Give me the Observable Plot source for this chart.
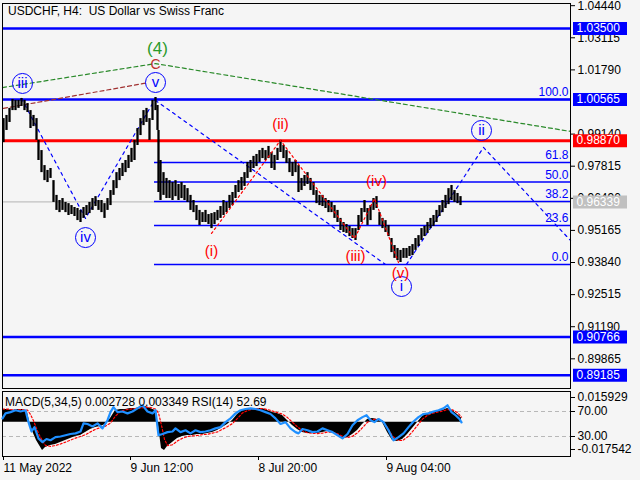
<!DOCTYPE html>
<html><head><meta charset="utf-8">
<script src="https://cdn.jsdelivr.net/npm/d3@7"></script>
<script src="https://cdn.jsdelivr.net/npm/@observablehq/plot@0.6"></script>
<style>
body{margin:0;background:#f5f5f5;}
#wrap{position:relative;width:640px;height:480px;overflow:hidden;font-family:"Liberation Sans",Arial,sans-serif;background:#f5f5f5;}
.layer{position:absolute;left:0;}
#title{position:absolute;left:8px;top:4px;font-size:12px;color:#000;white-space:pre;}
#ind{position:absolute;left:5px;top:395px;font-size:12px;color:#000;white-space:pre;}
</style></head><body>
<div id="wrap"></div>
<script>
// ---------- data ----------
const titleText = "USDCHF, H4:  US Dollar vs Swiss Franc";
const indicatorText = "MACD(5,34,5) 0.002728 0.003349 RSI(14) 52.69";

const priceTicks = [1.04440,1.03115,1.01790,0.99140,0.97815,0.96490,0.95165,0.93840,0.92515,0.91190,0.89865];
const timeTickBars = [3,130,258,386];
const timeTickLabels = ["11 May 2022","9 Jun 12:00","8 Jul 20:00","9 Aug 04:00"];

const priceBar = [3,6,9,12,15,18,21,24,27,30,33,36,38,41,44,47,50,53,56,59,62,65,68,71,74,77,80,83,86,89,92,95,98,101,104,107,110,113,116,119,122,125,128,131,134,137,140,143,146,149,152,155,157,158,160,163,166,169,172,175,178,181,184,187,190,193,196,199,202,205,208,211,214,217,220,223,226,229,232,235,238,241,244,247,250,253,256,259,262,265,268,271,274,277,280,283,286,289,292,295,298,301,304,307,310,313,316,319,322,325,328,331,334,337,340,343,346,349,352,355,358,361,364,367,370,373,376,379,382,385,388,391,394,397,400,403,406,409,412,415,418,421,424,427,430,433,436,439,442,445,448,451,454,457,460];
const priceHigh = [0.9978,0.9991,1.0020,1.0057,1.0053,1.0053,1.0061,1.0053,1.0040,1.0011,0.9991,0.9978,0.9888,0.9846,0.9784,0.9764,0.9772,0.9722,0.9661,0.9640,0.9648,0.9632,0.9627,0.9619,0.9611,0.9607,0.9599,0.9611,0.9619,0.9632,0.9648,0.9656,0.9640,0.9640,0.9627,0.9648,0.9681,0.9722,0.9755,0.9772,0.9793,0.9805,0.9826,0.9855,0.9888,0.9937,0.9978,1.0011,1.0020,0.9978,1.0053,1.0065,1.0032,0.9929,0.9805,0.9755,0.9731,0.9722,0.9714,0.9722,0.9706,0.9714,0.9702,0.9689,0.9661,0.9640,0.9619,0.9599,0.9590,0.9599,0.9582,0.9586,0.9590,0.9599,0.9615,0.9640,0.9632,0.9661,0.9673,0.9702,0.9722,0.9735,0.9755,0.9797,0.9805,0.9822,0.9830,0.9846,0.9855,0.9846,0.9863,0.9838,0.9826,0.9855,0.9888,0.9867,0.9846,0.9813,0.9797,0.9805,0.9784,0.9731,0.9743,0.9755,0.9731,0.9714,0.9681,0.9661,0.9661,0.9648,0.9640,0.9632,0.9619,0.9599,0.9566,0.9549,0.9541,0.9533,0.9524,0.9524,0.9578,0.9607,0.9640,0.9607,0.9619,0.9648,0.9656,0.9590,0.9566,0.9557,0.9537,0.9483,0.9454,0.9442,0.9434,0.9442,0.9442,0.9450,0.9458,0.9483,0.9495,0.9524,0.9533,0.9549,0.9566,0.9578,0.9599,0.9619,0.9640,0.9661,0.9689,0.9702,0.9681,0.9669,0.9656];
const priceLow = [0.9879,0.9929,0.9962,1.0011,1.0011,1.0020,1.0028,1.0011,1.0003,0.9937,0.9945,0.9888,0.9805,0.9755,0.9722,0.9714,0.9731,0.9632,0.9599,0.9590,0.9599,0.9590,0.9578,0.9582,0.9574,0.9557,0.9549,0.9566,0.9578,0.9586,0.9599,0.9615,0.9599,0.9590,0.9566,0.9599,0.9619,0.9661,0.9689,0.9722,0.9739,0.9755,0.9772,0.9797,0.9805,0.9867,0.9908,0.9949,0.9962,0.9888,0.9970,1.0011,0.9929,0.9673,0.9640,0.9661,0.9648,0.9648,0.9640,0.9656,0.9640,0.9648,0.9640,0.9632,0.9599,0.9590,0.9557,0.9537,0.9549,0.9549,0.9541,0.9524,0.9541,0.9557,0.9566,0.9578,0.9590,0.9607,0.9619,0.9648,0.9673,0.9681,0.9698,0.9731,0.9755,0.9772,0.9780,0.9797,0.9813,0.9805,0.9813,0.9772,0.9764,0.9805,0.9838,0.9813,0.9793,0.9755,0.9739,0.9755,0.9673,0.9681,0.9698,0.9706,0.9681,0.9661,0.9627,0.9619,0.9615,0.9607,0.9590,0.9590,0.9566,0.9549,0.9516,0.9508,0.9504,0.9491,0.9483,0.9475,0.9516,0.9549,0.9590,0.9537,0.9557,0.9599,0.9607,0.9537,0.9524,0.9508,0.9491,0.9425,0.9401,0.9392,0.9384,0.9401,0.9401,0.9409,0.9413,0.9434,0.9450,0.9475,0.9491,0.9504,0.9524,0.9533,0.9549,0.9574,0.9590,0.9607,0.9623,0.9640,0.9632,0.9627,0.9619];

const blueLevels = [1.03500, 1.00565, 0.90766, 0.89185];
const redLevel = [0.98870];
const currentPrice = [0.96339];

const fibLabels = ["0.0","23.6","38.2","50.0","61.8","100.0"];
const fibRatios = [0, 0.236, 0.382, 0.5, 0.618, 1];
const fibLow = 0.93757, fibHigh = 1.00565, fibStartBar = 154, fibEndBar = 570;

const greenLineBar = [2,155,570],  greenLinePrice = [1.0106,1.0205,0.9925];
const brownLineBar = [3,146],      brownLinePrice = [1.0020,1.0125];
const blueWaveBar = [21,85,155],   blueWavePrice = [1.0061,0.9566,1.0061];
const blueDropBar = [155,385],     blueDropPrice = [1.0053,0.9376];
const blueProjBar = [406,483,570], blueProjPrice = [0.9376,0.9859,0.9475];
const redWaveBar = [211,280,354,374,398], redWavePrice = [0.9504,0.9888,0.9483,0.9648,0.9384];

const circleNames = ["iii","v","iv","i","ii"];
const circleBar = [22,155,85,401,481];
const circlePrice = [1.0123,1.0127,0.9487,0.9285,0.9929];
const redNames = ["(i)","(ii)","(iii)","(iv)","(v)"];
const redBar = [211,280,355,376,400];
const redPrice = [0.9429,0.9954,0.9409,0.9718,0.9339];

const boxPrices = [1.03500,1.00565,0.98870,0.96339,0.90766,0.89185];
const boxColors = ["#0000ff","#0000ff","#ff0000","#c0c0c0","#0000ff","#0000ff"];

// indicator panel
const macdBar = [2,7,12,17,22,27,30,33,36,39,42,45,50,55,60,65,70,75,80,85,90,95,100,105,110,115,120,125,130,135,140,145,150,155,158,161,164,167,172,177,182,187,192,197,202,207,212,217,222,227,232,237,242,247,252,257,262,267,272,277,282,287,292,297,302,307,312,317,322,327,332,337,342,347,352,357,362,367,372,377,382,387,392,397,402,407,412,417,422,427,432,437,442,447,452,457,461];
const macdHist = [0.0082,0.0082,0.0075,0.0082,0.0082,0.0062,-0.0021,-0.0073,-0.0118,-0.0150,-0.0182,-0.0163,-0.0150,-0.0144,-0.0131,-0.0118,-0.0105,-0.0092,-0.0086,-0.0066,-0.0047,-0.0034,-0.0028,-0.0015,0.0024,0.0075,0.0082,0.0082,0.0088,0.0088,0.0095,0.0101,0.0088,0.0075,-0.0021,-0.0169,-0.0182,-0.0156,-0.0131,-0.0105,-0.0092,-0.0086,-0.0086,-0.0079,-0.0079,-0.0073,-0.0066,-0.0053,-0.0034,-0.0015,0.0011,0.0050,0.0075,0.0082,0.0088,0.0088,0.0088,0.0075,0.0062,0.0056,0.0043,0.0011,-0.0021,-0.0047,-0.0066,-0.0073,-0.0073,-0.0073,-0.0066,-0.0060,-0.0066,-0.0086,-0.0099,-0.0099,-0.0079,-0.0053,-0.0015,0.0017,0.0024,0.0017,-0.0002,-0.0066,-0.0118,-0.0124,-0.0111,-0.0079,-0.0041,-0.0002,0.0037,0.0056,0.0062,0.0069,0.0075,0.0088,0.0075,0.0050,0.0027];
const macdSignal = [0.0085,0.0085,0.0080,0.0080,0.0082,0.0078,0.0050,0.0010,-0.0040,-0.0085,-0.0120,-0.0150,-0.0155,-0.0150,-0.0140,-0.0128,-0.0115,-0.0102,-0.0092,-0.0080,-0.0062,-0.0045,-0.0035,-0.0025,-0.0005,0.0040,0.0070,0.0080,0.0085,0.0088,0.0090,0.0097,0.0095,0.0085,0.0060,-0.0020,-0.0110,-0.0150,-0.0145,-0.0120,-0.0103,-0.0092,-0.0088,-0.0085,-0.0080,-0.0077,-0.0070,-0.0062,-0.0045,-0.0028,-0.0008,0.0025,0.0060,0.0075,0.0085,0.0088,0.0088,0.0082,0.0072,0.0062,0.0052,0.0030,0.0000,-0.0030,-0.0055,-0.0068,-0.0072,-0.0073,-0.0070,-0.0063,-0.0063,-0.0075,-0.0090,-0.0098,-0.0090,-0.0068,-0.0035,0.0000,0.0018,0.0020,0.0008,-0.0035,-0.0090,-0.0115,-0.0118,-0.0095,-0.0060,-0.0020,0.0020,0.0045,0.0058,0.0065,0.0072,0.0082,0.0080,0.0062,0.0033];
const macdTicks = [0.015929, -0.017542];
const rsiBar = [2,5,10,15,20,25,28,31,34,38,42,46,50,55,60,65,70,75,80,83,87,92,97,102,107,110,113,117,122,127,132,137,142,147,152,155,158,162,167,172,175,180,185,190,195,200,205,210,215,220,225,230,235,240,245,250,255,260,265,270,275,280,285,290,295,298,302,307,312,317,322,327,332,337,342,347,352,357,362,366,370,374,378,383,388,393,398,403,408,413,418,423,428,433,438,443,447,451,455,459,461];
const rsiValue = [59,67,69,72,70,72,53,38,45,27,21,26,24,29,30,32,34,35,38,51,50,46,51,43,56,69,77,69,70,67,70,75,80,70,67,72,32,34,37,38,43,37,40,35,40,37,38,40,43,45,53,59,67,72,74,75,74,72,69,66,59,50,53,43,37,35,42,40,37,38,43,40,37,32,27,34,48,56,61,64,56,53,58,53,40,24,29,35,45,54,61,66,67,70,72,75,80,69,64,58,52.69];
const rsiLevels = [70, 30];

// ---------- build ----------
const FONT = "Liberation Sans, Arial, sans-serif";
const prices = priceBar.map((b,i)=>({bar:b, high:priceHigh[i], low:priceLow[i]}));
const fib = fibRatios.map((r,i)=>({p: fibLow + r*(fibHigh-fibLow), label: fibLabels[i]}));
const pts = (bars, vals) => bars.map((b,i)=>({bar:b, p:vals[i]}));
const circles = circleNames.map((n,i)=>({bar:circleBar[i], p:circlePrice[i], n}));
const reds = redNames.map((n,i)=>({bar:redBar[i], p:redPrice[i], n}));
const boxes = boxPrices.map((p,i)=>({p, c:boxColors[i], t:p.toFixed(5)}));
const macd = macdBar.map((b,i)=>({bar:b, h:macdHist[i], s:macdSignal[i]}));
const rsi = rsiBar.map((b,i)=>({bar:b, v:rsiValue[i]}));
const tickMap = new Map(timeTickBars.map((b,i)=>[b,timeTickLabels[i]]));
const BLUE = "#0000ff";

const main = Plot.plot({
  width:640, height:391, marginLeft:2, marginRight:70, marginTop:3, marginBottom:3,
  style:{background:"transparent", fontFamily:FONT, fontSize:"12px", color:"#000"},
  x:{domain:[2,570], axis:null},
  y:{domain:[0.8864,1.0453], axis:null},
  marks:[
    Plot.axisY({anchor:"right", ticks:priceTicks, tickFormat:d=>d.toFixed(5), tickSize:4, tickPadding:3, fontSize:12, label:null}),
    Plot.ruleY(currentPrice, {stroke:"#c0c0c0", strokeWidth:1.2}),
    Plot.ruleY(fib, {y:"p", x1:fibStartBar, x2:fibEndBar, stroke:BLUE, strokeWidth:1.5}),
    Plot.ruleY(blueLevels, {stroke:BLUE, strokeWidth:2.6}),
    Plot.ruleY(redLevel, {stroke:"#ff0000", strokeWidth:3}),
    Plot.line(pts(greenLineBar, greenLinePrice), {x:"bar", y:"p", stroke:"#2a8a2a", strokeWidth:1.2, strokeDasharray:"4,3"}),
    Plot.line(pts(brownLineBar, brownLinePrice), {x:"bar", y:"p", stroke:"#a03030", strokeWidth:1.2, strokeDasharray:"4,3"}),
    Plot.line(pts(blueWaveBar, blueWavePrice), {x:"bar", y:"p", stroke:BLUE, strokeWidth:1.2, strokeDasharray:"3,4"}),
    Plot.line(pts(blueDropBar, blueDropPrice), {x:"bar", y:"p", stroke:BLUE, strokeWidth:1.2, strokeDasharray:"3,4"}),
    Plot.line(pts(blueProjBar, blueProjPrice), {x:"bar", y:"p", stroke:BLUE, strokeWidth:1.2, strokeDasharray:"3,4"}),
    Plot.ruleX(prices, {x:"bar", y1:"low", y2:"high", stroke:"#000", strokeWidth:2.3}),
    Plot.line(pts(redWaveBar, redWavePrice), {x:"bar", y:"p", stroke:"#ff0000", strokeWidth:1.2, strokeDasharray:"2,3"}),
    Plot.text(fib, {x:fibEndBar, y:"p", text:"label", textAnchor:"end", dx:-2, dy:-7, fill:BLUE, fontSize:12}),
    Plot.dot(circles, {x:"bar", y:"p", r:10, stroke:BLUE, fill:"none", strokeWidth:1}),
    Plot.text(circles, {x:"bar", y:"p", text:"n", fill:BLUE, fontSize:15}),
    Plot.text(reds, {x:"bar", y:"p", text:"n", fill:"#ff0000", fontSize:15}),
    Plot.text(["C"], {x:155, y:1.0201, fill:"#c03030", fontSize:14}),
    Plot.text(["(4)"], {x:157, y:1.0267, fill:"#2a9a2a", fontSize:17}),
    Plot.ruleY(boxes, {y:"p", x1:573, x2:627, stroke:"c", strokeWidth:13}),
    Plot.text(boxes, {x:573, y:"p", text:"t", textAnchor:"start", dx:3, fill:"#fff", fontSize:12}),
    Plot.frame({stroke:"#000"})
  ]
});

const common = {width:640, height:92, marginLeft:2, marginRight:70, marginTop:3, marginBottom:24,
  x:{domain:[2,570], axis:null}};

const rsiBase = Plot.plot({...common,
  style:{background:"transparent", fontFamily:FONT, fontSize:"12px", color:"#000"},
  y:{domain:[-2,102], axis:null},
  marks:[
    Plot.ruleY(rsiLevels, {stroke:"#b8b8b8", strokeDasharray:"4,3"}),
    Plot.axisY({anchor:"right", ticks:rsiLevels, tickFormat:d=>d.toFixed(2), tickSize:4, tickPadding:3, fontSize:12, label:null})
  ]
});

const macdPlot = Plot.plot({...common,
  style:{background:"transparent", fontFamily:FONT, fontSize:"12px", color:"#000"},
  y:{domain:[-0.022048, 0.019791], axis:null},
  marks:[
    Plot.areaY(macd, {x:"bar", y:"h", fill:"#000"}),
    Plot.line(macd, {x:"bar", y:"s", stroke:"#ff0000", strokeWidth:1.2, strokeDasharray:"2,2"}),
    Plot.axisY({anchor:"right", ticks:macdTicks, tickFormat:d=>d.toFixed(6), tickSize:4, tickPadding:3, fontSize:12, label:null}),
    Plot.axisX({anchor:"bottom", ticks:timeTickBars, tickFormat:d=>tickMap.get(d), tickSize:4, tickPadding:3, textAnchor:"start", fontSize:12, label:null}),
    Plot.frame({stroke:"#000"})
  ]
});

const rsiTop = Plot.plot({...common,
  style:{background:"transparent", fontFamily:FONT, fontSize:"12px"},
  y:{domain:[-2,102], axis:null},
  marks:[
    Plot.line(rsi, {x:"bar", y:"v", stroke:"#1e8fff", strokeWidth:2.2})
  ]
});

const wrap = document.getElementById("wrap");
function place(el, top){ el.classList.add("layer"); el.style.top = top+"px"; wrap.appendChild(el); }
place(main, 0);
place(rsiBase, 388);
place(macdPlot, 388);
place(rsiTop, 388);
const t = document.createElement("div"); t.id="title"; t.textContent = titleText; wrap.appendChild(t);
const ind = document.createElement("div"); ind.id="ind"; ind.textContent = indicatorText; wrap.appendChild(ind);
</script>
</body></html>
